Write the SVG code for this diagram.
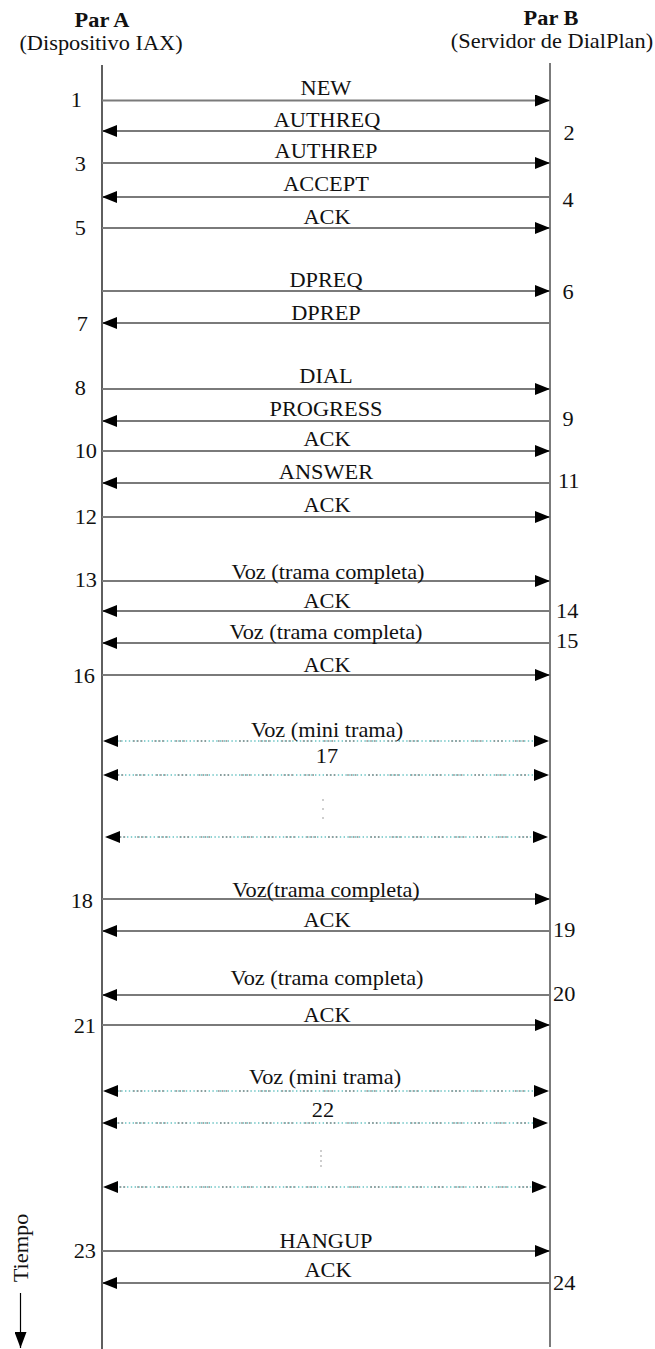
<svg xmlns="http://www.w3.org/2000/svg" width="655" height="1349" viewBox="0 0 655 1349" font-family="'Liberation Serif', 'Times New Roman', serif">
  <defs>
    <marker id="head" viewBox="0 0 15 12" refX="15" refY="6" markerWidth="15" markerHeight="12" markerUnits="userSpaceOnUse" orient="auto-start-reverse">
      <path d="M0,0 L15,6 L0,12 z" fill="#000"/>
    </marker>
    <marker id="timehead" viewBox="0 0 12 16" refX="6" refY="16" markerWidth="12" markerHeight="16" markerUnits="userSpaceOnUse" orient="0">
      <path d="M0,0 L12,0 L6,16 z" fill="#000"/>
    </marker>
  </defs>
  <style>
    text { font-family: 'Liberation Serif', 'Times New Roman', serif; font-size: 20.5px; fill: #111; }
    .hdr { font-weight: bold; text-anchor: middle; }
    .mid { text-anchor: middle; }
    .nl { text-anchor: end; }
    .nrs { text-anchor: start; }
    .msg { stroke: #7a7a7a; stroke-width: 1.8; fill: none; }
    .arrow { marker-end: url(#head); }
    .mini { stroke: #1aa3a3; stroke-width: 1.2; stroke-dasharray: 1.4 2.4; fill: none; }
    .mini-g { stroke: #8a8a8a; stroke-width: 1.4; stroke-dasharray: 1.6 2.2 1.6 2.2 1.6 12; fill: none; }
    .both { marker-start: url(#head); marker-end: url(#head); stroke: none; fill: none; }
    .dot { fill: #777; }
  </style>

  <!-- Peer A: header and lifeline -->
  <g id="par-a">
    <text class="hdr" transform="translate(102 27) scale(1.09 1)">Par A</text>
    <text class="mid" transform="translate(101 50) scale(1.09 1)">(Dispositivo IAX)</text>
    <line x1="102" y1="65" x2="102" y2="1349" stroke="#2a2a2a" stroke-width="1.5"/>
  </g>

  <!-- Peer B: header and lifeline -->
  <g id="par-b">
    <text class="hdr" transform="translate(551 25) scale(1.09 1)">Par B</text>
    <text class="mid" transform="translate(552 48) scale(1.09 1)">(Servidor de DialPlan)</text>
    <line x1="550" y1="63" x2="550" y2="1347" stroke="#5a5a5a" stroke-width="1.6"/>
  </g>

  <!-- Time axis -->
  <g id="tiempo">
    <text class="mid" transform="translate(28 1248) rotate(-90) scale(1.09 1)">Tiempo</text>
    <line x1="20.5" y1="1293" x2="20.5" y2="1348" stroke="#000" stroke-width="1.2" marker-end="url(#timehead)"/>
  </g>

  <!-- Messages -->
  <g id="connectors">
    <path class="msg arrow" d="M102,100.5 H550"/>
    <path class="msg arrow" d="M550,131 H102"/>
    <path class="msg arrow" d="M102,163 H550"/>
    <path class="msg arrow" d="M550,197 H102"/>
    <path class="msg arrow" d="M102,228 H550"/>

    <path class="msg arrow" d="M102,291 H550"/>
    <path class="msg arrow" d="M550,323 H102"/>

    <path class="msg arrow" d="M102,389 H550"/>
    <path class="msg arrow" d="M550,421 H102"/>
    <path class="msg arrow" d="M102,451 H550"/>
    <path class="msg arrow" d="M550,483 H102"/>
    <path class="msg arrow" d="M102,517 H550"/>

    <path class="msg arrow" d="M102,581 H550"/>
    <path class="msg arrow" d="M550,611 H102"/>
    <path class="msg arrow" d="M550,643 H102"/>
    <path class="msg arrow" d="M102,675 H550"/>

    <!-- mini frames, both directions -->
    <path class="mini" d="M106,741 H546"/>
    <path class="mini-g" d="M112,741 H540"/>
    <path class="both" d="M103,741 H549"/>
    <path class="mini" d="M106,775 H546"/>
    <path class="mini-g" d="M114,775 H540"/>
    <path class="both" d="M103,775 H549"/>
    <path class="mini" d="M108,837 H544"/>
    <path class="mini-g" d="M116,837 H538"/>
    <path class="both" d="M105,837 H548"/>
    <circle class="dot" cx="323" cy="800" r="0.7"/>
    <circle class="dot" cx="323" cy="809" r="0.7"/>
    <circle class="dot" cx="323" cy="818" r="0.7"/>

    <path class="msg arrow" d="M102,899 H550"/>
    <path class="msg arrow" d="M550,931 H102"/>
    <path class="msg arrow" d="M550,995 H102"/>
    <path class="msg arrow" d="M102,1025 H550"/>

    <path class="mini" d="M106,1091 H546"/>
    <path class="mini-g" d="M112,1091 H540"/>
    <path class="both" d="M103,1091 H549"/>
    <path class="mini" d="M106,1123 H546"/>
    <path class="mini-g" d="M114,1123 H540"/>
    <path class="both" d="M102,1123 H548"/>
    <path class="mini" d="M108,1187 H544"/>
    <path class="mini-g" d="M116,1187 H538"/>
    <path class="both" d="M103,1187 H547"/>
    <circle class="dot" cx="321" cy="1151" r="0.7"/>
    <circle class="dot" cx="321" cy="1156" r="0.7"/>
    <circle class="dot" cx="321" cy="1161" r="0.7"/>
    <circle class="dot" cx="321" cy="1166" r="0.7"/>

    <path class="msg arrow" d="M102,1251 H550"/>
    <path class="msg arrow" d="M550,1283 H102"/>
  </g>

  <!-- Message labels -->
  <g id="labels">
    <text class="mid" transform="translate(326 95) scale(1.09 1)">NEW</text>
    <text class="mid" transform="translate(327 127) scale(1.09 1)">AUTHREQ</text>
    <text class="mid" transform="translate(326 158) scale(1.09 1)">AUTHREP</text>
    <text class="mid" transform="translate(326 191) scale(1.09 1)">ACCEPT</text>
    <text class="mid" transform="translate(327 224) scale(1.09 1)">ACK</text>
    <text class="mid" transform="translate(326 287) scale(1.09 1)">DPREQ</text>
    <text class="mid" transform="translate(326 320) scale(1.09 1)">DPREP</text>
    <text class="mid" transform="translate(326 383) scale(1.09 1)">DIAL</text>
    <text class="mid" transform="translate(326 416) scale(1.09 1)">PROGRESS</text>
    <text class="mid" transform="translate(327 446) scale(1.09 1)">ACK</text>
    <text class="mid" transform="translate(326 479) scale(1.09 1)">ANSWER</text>
    <text class="mid" transform="translate(327 512) scale(1.09 1)">ACK</text>
    <text class="mid" transform="translate(328 579) scale(1.09 1)">Voz (trama completa)</text>
    <text class="mid" transform="translate(327 608) scale(1.09 1)">ACK</text>
    <text class="mid" transform="translate(326 639) scale(1.09 1)">Voz (trama completa)</text>
    <text class="mid" transform="translate(327 672) scale(1.09 1)">ACK</text>
    <text class="mid" transform="translate(327 737) scale(1.09 1)">Voz (mini trama)</text>
    <text class="mid" transform="translate(327 763) scale(1.09 1)">17</text>
    <text class="mid" transform="translate(326 897) scale(1.09 1)">Voz(trama completa)</text>
    <text class="mid" transform="translate(327 927) scale(1.09 1)">ACK</text>
    <text class="mid" transform="translate(327 985) scale(1.09 1)">Voz (trama completa)</text>
    <text class="mid" transform="translate(327 1022) scale(1.09 1)">ACK</text>
    <text class="mid" transform="translate(325 1084) scale(1.09 1)">Voz (mini trama)</text>
    <text class="mid" transform="translate(323 1117) scale(1.09 1)">22</text>
    <text class="mid" transform="translate(326 1248) scale(1.09 1)">HANGUP</text>
    <text class="mid" transform="translate(328 1277) scale(1.09 1)">ACK</text>
  </g>

  <!-- Sequence numbers -->
  <g id="numbers">
    <text class="nl" transform="translate(82 107) scale(1.09 1)">1</text>
    <text class="mid" transform="translate(569 140) scale(1.09 1)">2</text>
    <text class="nl" transform="translate(86 171) scale(1.09 1)">3</text>
    <text class="mid" transform="translate(568 207) scale(1.09 1)">4</text>
    <text class="nl" transform="translate(86 235) scale(1.09 1)">5</text>
    <text class="mid" transform="translate(568 299) scale(1.09 1)">6</text>
    <text class="nl" transform="translate(88 331) scale(1.09 1)">7</text>
    <text class="nl" transform="translate(86 395) scale(1.09 1)">8</text>
    <text class="mid" transform="translate(568 426) scale(1.09 1)">9</text>
    <text class="nl" transform="translate(97 458) scale(1.09 1)">10</text>
    <text class="nrs" transform="translate(558 488) scale(1.09 1)">11</text>
    <text class="nl" transform="translate(97 524) scale(1.09 1)">12</text>
    <text class="nl" transform="translate(97 587) scale(1.09 1)">13</text>
    <text class="nrs" transform="translate(556 618) scale(1.09 1)">14</text>
    <text class="nrs" transform="translate(556 648) scale(1.09 1)">15</text>
    <text class="nl" transform="translate(95 683) scale(1.09 1)">16</text>
    <text class="nl" transform="translate(93 908) scale(1.09 1)">18</text>
    <text class="nrs" transform="translate(553 937) scale(1.09 1)">19</text>
    <text class="nrs" transform="translate(553 1001) scale(1.09 1)">20</text>
    <text class="nl" transform="translate(96 1033) scale(1.09 1)">21</text>
    <text class="nl" transform="translate(96 1258) scale(1.09 1)">23</text>
    <text class="nrs" transform="translate(553 1290) scale(1.09 1)">24</text>
  </g>
</svg>
